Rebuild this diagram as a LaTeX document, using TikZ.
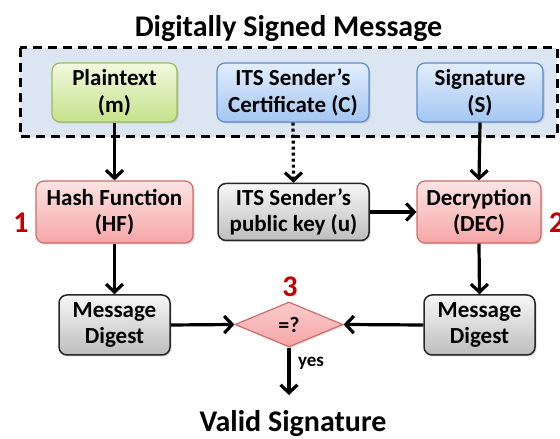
\documentclass[tikz,border=0pt]{standalone}
\usepackage{fontspec}
\setmainfont{Carlito}
\usetikzlibrary{arrows.meta,shapes.geometric,shadows}
\definecolor{bgBlue}{HTML}{DCE6F2}
\definecolor{gTop}{HTML}{F2F9DE}
\definecolor{gBot}{HTML}{C4E28A}
\definecolor{gLine}{HTML}{9BBB59}
\definecolor{bTop}{HTML}{E2EEFC}
\definecolor{bBot}{HTML}{A4C6F2}
\definecolor{bLine}{HTML}{5B8BD0}
\definecolor{rTop}{HTML}{FDE4E4}
\definecolor{rBot}{HTML}{F5A6A6}
\definecolor{rLine}{HTML}{D26A6A}
\definecolor{kTop}{HTML}{F7F7F7}
\definecolor{kBot}{HTML}{BDBDBD}
\definecolor{numRed}{HTML}{C00000}
\begin{document}
\begin{tikzpicture}[x=1pt,y=1pt,
  basebox/.style={rounded corners=8pt, align=center, inner sep=0pt,
    font=\fontsize{23}{26.5}\selectfont\bfseries, line width=1.2pt,
    drop shadow={opacity=0.3, shadow xshift=1.5pt, shadow yshift=-1.5pt}},
  greenbox/.style={basebox, draw=gLine, top color=gTop, bottom color=gBot},
  bluebox/.style={basebox, draw=bLine, top color=bTop, bottom color=bBot},
  redbox/.style={basebox, draw=rLine, top color=rTop, bottom color=rBot},
  graybox/.style={basebox, draw=black!85, line width=1.5pt, top color=kTop, bottom color=kBot},
  flow/.style={line width=3.2pt, -{Straight Barb[length=8pt,width=17pt]}},
  stepnum/.style={text=numRed, font=\fontsize{30}{30}\selectfont\bfseries, inner sep=0pt},
  bigtitle/.style={font=\fontsize{30}{30}\selectfont\bfseries, inner sep=0pt},
]
\useasboundingbox (0,0) rectangle (560,439);

% dashed container
\draw[fill=bgBlue, line width=3pt, dash pattern=on 9pt off 6pt] (20,391) rectangle (557,302);
\node[bigtitle, anchor=base] (title) at (288.5,402) {Digitally Signed Message};

% top row
\node[greenbox, minimum width=125pt, minimum height=59pt] (plain) at (114.5,346.5) {Plaintext\\(m)};
\node[bluebox, minimum width=152pt, minimum height=59pt] (cert) at (293,346.5) {ITS Sender’s\\Certificate (C)};
\node[bluebox, minimum width=126pt, minimum height=59pt] (sig) at (480,346.5) {Signature\\(S)};

% middle row
\node[redbox, minimum width=157pt, minimum height=62pt] (hf) at (114.5,227) {Hash Function\\(HF)};
\node[graybox, minimum width=151pt, minimum height=57pt] (pk) at (293.5,227) {ITS Sender’s\\public key (u)};
\node[redbox, minimum width=124pt, minimum height=62pt] (dec) at (479,227) {Decryption\\(DEC)};
\node[stepnum, anchor=base] (n1) at (21,206) {1};
\node[stepnum, anchor=base west] (n2) at (549,206) {2};

% bottom row
\node[graybox, minimum width=111pt, minimum height=60pt] (mdl) at (114.5,114) {Message\\Digest};
\node[graybox, minimum width=111pt, minimum height=60pt] (mdr) at (479.5,114) {Message\\Digest};
\node[diamond, draw=rLine, line width=1.2pt, top color=rTop!60!rBot, bottom color=rBot,
      minimum width=108pt, minimum height=45pt, inner sep=0pt,
      font=\fontsize{22}{22}\selectfont\bfseries,
      drop shadow={opacity=0.25, shadow xshift=1.2pt, shadow yshift=-1.2pt}] (cmp) at (289,114.5) {=?};
\node[stepnum, anchor=base] (n3) at (290,142) {3};
\coordinate (endpt) at (289,44);
\node[font=\fontsize{19}{19}\selectfont\bfseries, inner sep=0pt] (yes) at (311,76) {yes};
\node[bigtitle, anchor=base] (valid) at (293,7) {Valid Signature};

% connectors
\draw[flow] (plain.south) -- (hf.north);
\draw[flow] (sig.south) -- (dec.north);
\draw[line width=3.2pt, dash pattern=on 3pt off 3pt, -{Straight Barb[length=8pt,width=17pt]}] (cert.south) -- (pk.north);
\draw[flow] (pk.east) -- (dec.west);
\draw[flow] (hf.south) -- (mdl.north);
\draw[flow] (dec.south) -- (mdr.north);
\draw[flow] (mdl.east) -- (cmp.west);
\draw[flow] (mdr.west) -- (cmp.east);
\draw[flow] (cmp.south) -- (endpt);
\end{tikzpicture}
\end{document}
